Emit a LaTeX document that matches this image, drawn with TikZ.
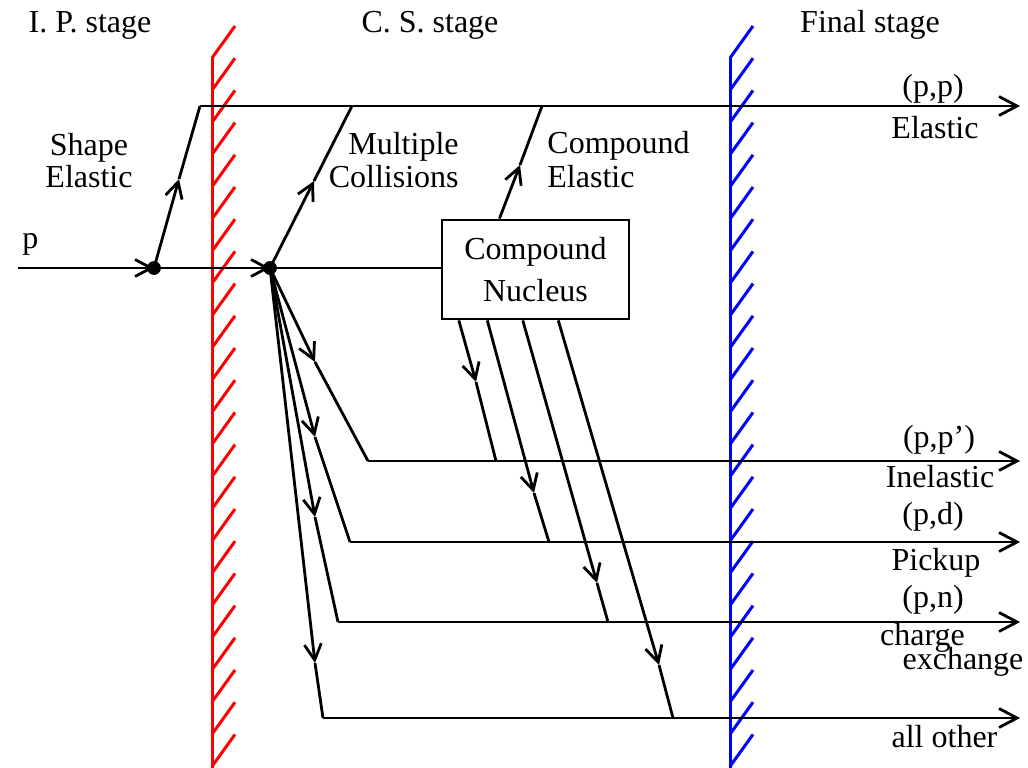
\documentclass[tikz,border=0pt]{standalone}
\usepackage{fontspec}
\setmainfont{Liberation Serif}
\usetikzlibrary{arrows.meta,calc}
\begin{document}
\begin{tikzpicture}[x=1pt,y=-1pt,
  line width=2.8pt,
  lbl/.style={font=\fontsize{32}{36}\selectfont, inner sep=0pt, anchor=base},
  flow/.style={-{Straight Barb[length=18pt,width=19pt]}},
  mid/.style={-{Straight Barb[length=16pt,width=17pt]}},
  wall/.style={line width=3pt},
  dot/.style={circle, fill=black, inner sep=0pt, minimum size=13.5pt},
  nucleus/.style={draw, rectangle, minimum width=187pt, minimum height=99pt,
    align=center, inner sep=0pt, font=\fontsize{32}{42}\selectfont}]
\useasboundingbox (0,0) rectangle (1028,768);

% stage boundaries (hatched walls)
\draw[wall,red] (212,58) -- (212,768);
\foreach \k in {0,...,22} \draw[wall,red] (212,{58+32.2*\k}) -- ++(23,-32);
\draw[wall,blue] (730,58) -- (730,768);
\foreach \k in {0,...,22} \draw[wall,blue] (730,{58+32.2*\k}) -- ++(23,-32);

% stage titles
\node[lbl] (tip) at (90,33) {I. P. stage};
\node[lbl] (tcs) at (430,33) {C. S. stage};
\node[lbl] (tfin) at (870,33) {Final stage};

% interaction vertices and compound nucleus
\node[dot] (v1) at (154,268) {};
\node[dot] (v2) at (270,268) {};
\node[nucleus] (cn) at (535.5,269.5) {Compound\\Nucleus};

% key points along the paths
\coordinate (pin) at (18,268);
\coordinate (s1) at (200,106);
\coordinate (m1) at (352,106);
\coordinate (c1) at (542,106);
\coordinate (e1) at (1020,106);
\coordinate (as) at (179,179);
\coordinate (am) at (314,181);
\coordinate (ac) at (520,165);

\coordinate (k1) at (368,461);
\coordinate (k2) at (350,542);
\coordinate (k3) at (338,622);
\coordinate (k4) at (323,718);
\coordinate (a1) at (315,362);
\coordinate (a2) at (315,437);
\coordinate (a3) at (315,517);
\coordinate (a4) at (315,663);
\coordinate (e2) at (1020,461);
\coordinate (e3) at (1020,542);
\coordinate (e4) at (1020,622);
\coordinate (e5) at (1020,718);

\coordinate (j1) at (496,461);
\coordinate (j2) at (549,542);
\coordinate (j3) at (608,622);
\coordinate (j4) at (673,718);
\coordinate (b1) at (476,382);
\coordinate (b2) at (534,493);
\coordinate (b3) at (597,583);
\coordinate (b4) at (659,665);

% incoming proton
\draw[mid] (pin) -- (v1.center);
\draw[mid] (v1.center) -- (v2.center);
\draw (v2.center) -- (v2.center -| cn.west);

% elastic channel
\draw[mid] (v1.center) -- (as);
\draw (as) -- (s1);
\draw[mid] (v2.center) -- (am);
\draw (am) -- (m1);
\draw[mid] ($(cn.north west)!0.31!(cn.north east)$) -- (ac);
\draw (ac) -- (c1);
\draw[flow] (s1) -- (e1);

% direct multi-step channels
\draw[mid] (v2.center) -- (a1);
\draw (a1) -- (k1);
\draw[flow] (k1) -- (e2);
\draw[mid] (v2.center) -- (a2);
\draw (a2) -- (k2);
\draw[flow] (k2) -- (e3);
\draw[mid] (v2.center) -- (a3);
\draw (a3) -- (k3);
\draw[flow] (k3) -- (e4);
\draw[mid] (v2.center) -- (a4);
\draw (a4) -- (k4);
\draw[flow] (k4) -- (e5);

% compound nucleus decays
\draw[mid] ($(cn.south west)!0.096!(cn.south east)$) -- (b1);
\draw (b1) -- (j1);
\draw[mid] ($(cn.south west)!0.246!(cn.south east)$) -- (b2);
\draw (b2) -- (j2);
\draw[mid] ($(cn.south west)!0.433!(cn.south east)$) -- (b3);
\draw (b3) -- (j3);
\draw[mid] ($(cn.south west)!0.62!(cn.south east)$) -- (b4);
\draw (b4) -- (j4);

% redraw vertices on top
\node[dot] at (v1) {};
\node[dot] at (v2) {};

% process labels
\node[lbl, anchor=base west] (lp) at (21,248) {p};
\node[lbl] (lse1) at (89,155) {Shape};
\node[lbl] (lse2) at (89,187) {Elastic};
\node[lbl, anchor=base east] (lmc1) at (460,154) {Multiple};
\node[lbl, anchor=base east] (lmc2) at (460,187) {Collisions};
\node[lbl, anchor=base west] (lce1) at (546,153) {Compound};
\node[lbl, anchor=base west] (lce2) at (546,187) {Elastic};

% outgoing channel labels
\node[lbl] (o1a) at (933,96) {(p,p)};
\node[lbl] (o1b) at (935,138) {Elastic};
\node[lbl] (o2a) at (939,447) {(p,p’)};
\node[lbl] (o2b) at (940,487) {Inelastic};
\node[lbl] (o3a) at (933,524) {(p,d)};
\node[lbl] (o3b) at (936,570) {Pickup};
\node[lbl] (o4a) at (933,607) {(p,n)};
\node[lbl] (o4b) at (922.5,645) {charge};
\node[lbl] (o4c) at (963,669) {exchange};
\node[lbl] (o5) at (944.5,747) {all other};
\end{tikzpicture}
\end{document}
